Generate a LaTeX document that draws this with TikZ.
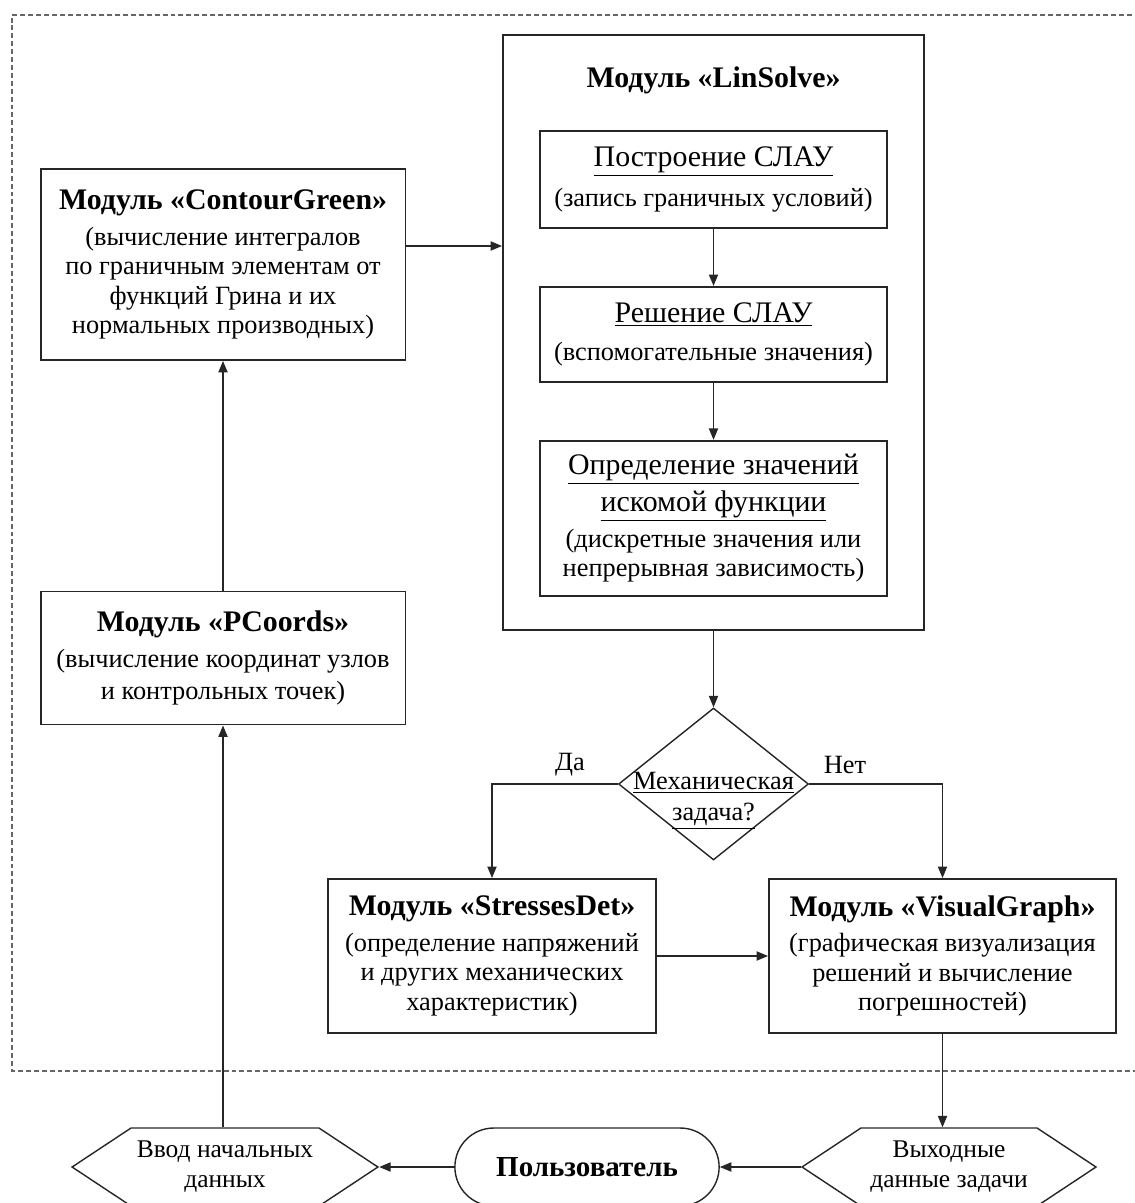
\documentclass[tikz,border=0pt]{standalone}
\usepackage{fontspec}
\setmainfont{Liberation Serif}
\usetikzlibrary{shapes.geometric, shapes.symbols, shapes.misc, arrows.meta, positioning}

\newcommand{\ttlfont}{\fontsize{17}{20}\selectfont\bfseries}
\newcommand{\headfont}{\fontsize{17}{20}\selectfont}
\newcommand{\bodyfont}{\fontsize{15}{16.8}\selectfont}

\begin{document}
\begin{tikzpicture}[
    x=0.02cm, y=-0.02cm,
    >={Triangle[length=6.5pt, width=5.2pt]},
    node distance=1.14cm,
    box/.style={draw=black!85, line width=1.1pt, align=center, inner sep=2pt, font=\bodyfont},
    subbox/.style={box, minimum width=6.94cm},
    decision/.style={diamond, draw=black!85, line width=0.8pt, minimum width=3.8cm, minimum height=3.04cm, inner sep=0pt},
    iobox/.style={signal, signal to=east and west, signal pointer angle=67, draw=black!85, line width=0.8pt, minimum width=5.88cm, minimum height=1.56cm, align=center, font=\fontsize{14.5}{17}\selectfont},
    userbox/.style={rounded rectangle, draw=black!85, line width=0.8pt, minimum width=5.52cm, minimum height=1.56cm, font=\fontsize{16.5}{20}\selectfont\bfseries},
    arrow/.style={->, line width=0.8pt, black!85},
    frame/.style={dash pattern=on 2.8pt off 1.7pt, line width=0.8pt, black!60},
  ]
  \useasboundingbox (0,0) rectangle (1134,1203);
  % system boundary
  \draw[frame] (1140,15) -- (12,15) -- (12,1071) -- (1140,1071);
  % ContourGreen
  \node[box, minimum width=7.3cm, minimum height=3.82cm] (cgreen) at (223,264.5) {{\ttlfont Модуль «ContourGreen»}\\[3.4pt] (вычисление интегралов\\ по граничным элементам от\\ функций Грина и их\\ нормальных производных)};
  % PCoords
  \node[box, minimum width=7.3cm, minimum height=2.66cm] (pcoords) at (223,658) {{\ttlfont Модуль «PCoords»}\\[3.4pt] (вычисление координат узлов\\[1.5pt] и контрольных точек)};
  \draw[arrow] (pcoords.north) -- (cgreen.south);
  % LinSolve
  \node[box, minimum width=8.42cm, minimum height=11.9cm] (linsolve) at (713.5,332.5) {};
  \node[font=\ttlfont, anchor=base] (lstitle) at (713.5,88) {Модуль «LinSolve»};
  \node[subbox, minimum height=1.94cm] (build) at (713.5,179.5) {{\headfont\underline{Построение СЛАУ}}\\[5.7pt] (запись граничных условий)};
  \node[subbox, minimum height=1.9cm, below=of build] (solve) {{\headfont\underline{Решение СЛАУ}}\\[5pt] (вспомогательные значения)};
  \node[subbox, minimum height=3.1cm, below=of solve] (values) {{\headfont\underline{Определение значений}}\\[2.8pt] {\headfont\underline{искомой функции}}\\[3.4pt] (дискретные значения или\\ непрерывная зависимость)};
  \draw[arrow] (build) -- (solve);
  \draw[arrow] (solve) -- (values);
  \draw[arrow] ([yshift=0.37cm]cgreen.east) -- ([yshift=0.37cm]cgreen.east -| linsolve.west);
  % decision
  \node[decision] (mech) at (713.5,784) {};
  \node[align=center, font=\bodyfont] (mechtext) at ([yshift=-0.34cm]mech.center) {\underline{Механическая}\\[0.8pt] \underline{задача?}};
  \draw[arrow] (linsolve.south) -- (mech.north);
  \node[font=\bodyfont] (yes) at (570,765) {Да};
  \node[font=\bodyfont] (no) at (845,765) {Нет};
  % StressesDet, VisualGraph
  \node[box, minimum width=6.56cm, minimum height=3.08cm] (stress) at (492,956) {{\ttlfont Модуль «StressesDet»}\\[3.4pt] (определение напряжений\\ и других механических\\ характеристик)};
  \node[box, minimum width=6.94cm, minimum height=3.08cm] (vgraph) at (942.5,956) {{\ttlfont Модуль «VisualGraph»}\\[3.4pt] (графическая визуализация\\ решений и вычисление\\ погрешностей)};
  \draw[arrow] (mech.west) -| (stress.north);
  \draw[arrow] (mech.east) -| (vgraph.north);
  \draw[arrow] (stress.east) -- (vgraph.west);
  % user and data
  \node[iobox] (input) at (225,1167) {Ввод начальных\\ данных};
  \node[userbox] (user) at (587,1167) {Пользователь};
  \node[iobox] (output) at (949,1167) {Выходные\\ данные задачи};
  \draw[arrow] (vgraph.south) -- (vgraph.south |- output.north);
  \draw[arrow] (output.west) -- (user.east);
  \draw[arrow] (user.west) -- (input.east);
  \draw[arrow] (pcoords.south |- input.north) -- (pcoords.south);
\end{tikzpicture}
\end{document}
